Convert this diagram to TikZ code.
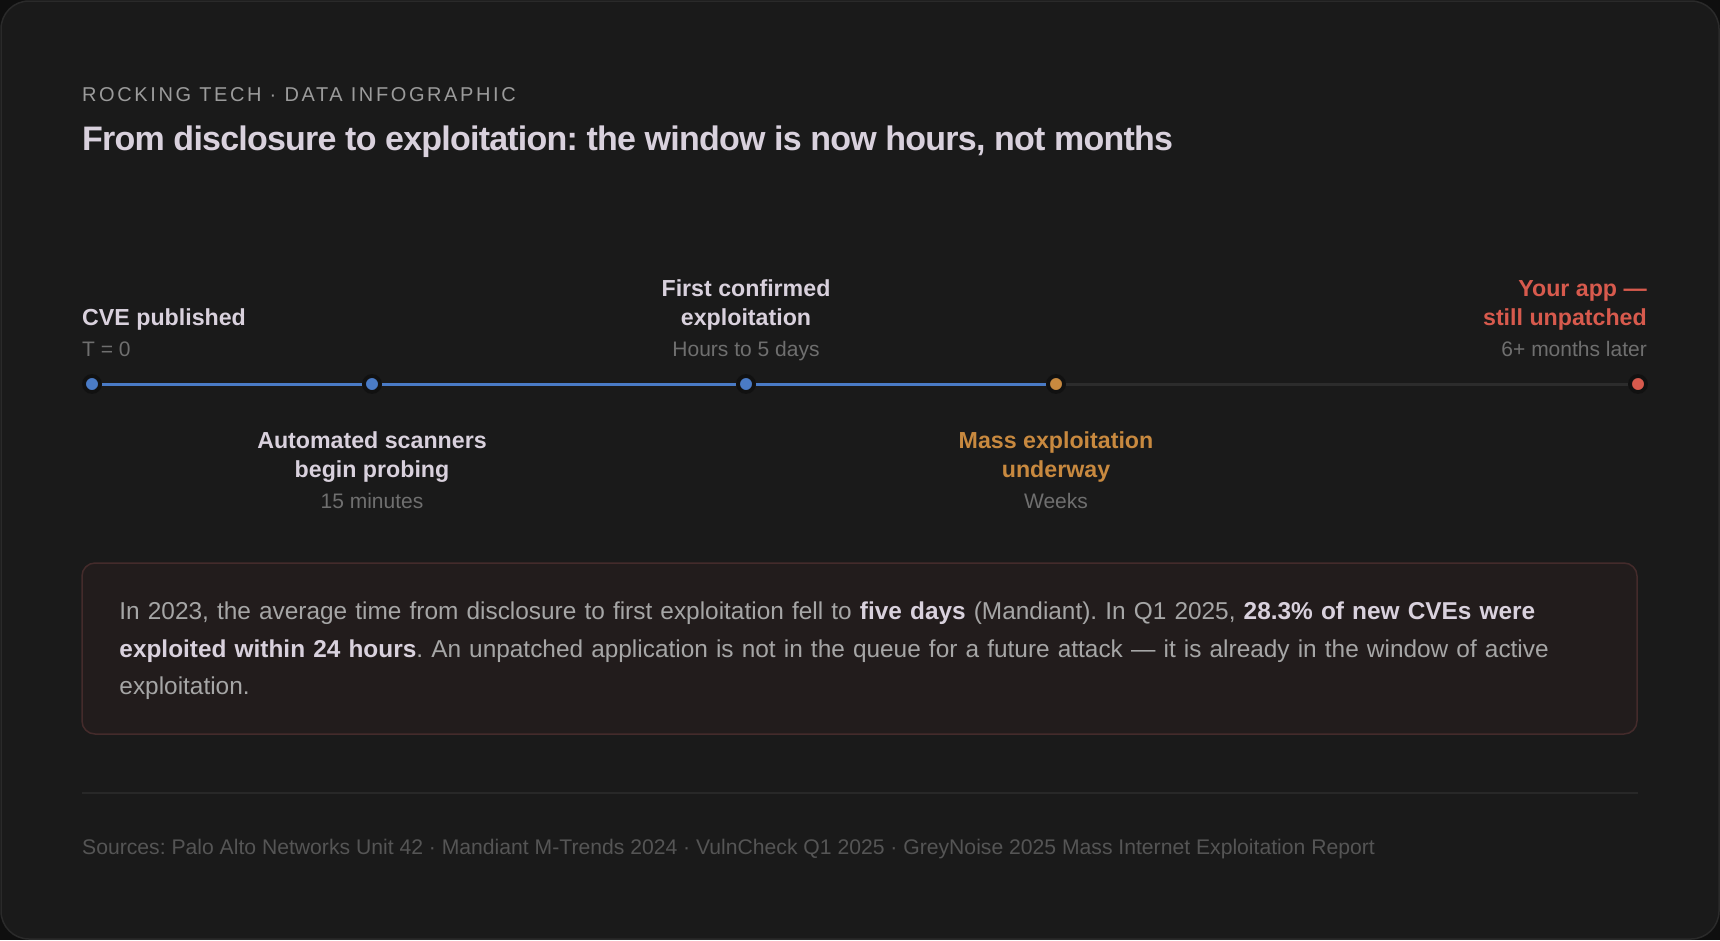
\documentclass[tikz,border=0pt]{standalone}
\usepackage{fontspec}
\setmainfont{Liberation Sans}
\usetikzlibrary{positioning}
\frenchspacing

% colours
\definecolor{pagebg}{HTML}{0F0F0F}
\definecolor{cardbg}{HTML}{1A1A1A}
\definecolor{cardline}{HTML}{2A2A2A}
\definecolor{kickergray}{HTML}{9B9B9B}
\definecolor{titlecol}{HTML}{D9D1DD}
\definecolor{subgray}{HTML}{6F6F6F}
\definecolor{stopblue}{HTML}{4A7BC6}
\definecolor{stoporange}{HTML}{C8893F}
\definecolor{stopred}{HTML}{D75A4D}
\definecolor{trackgray}{HTML}{2C2C2C}
\definecolor{ringcol}{HTML}{111111}
\definecolor{notebg}{HTML}{221C1C}
\definecolor{noteline}{HTML}{442B2B}
\definecolor{notegray}{HTML}{A6A6A6}
\definecolor{rulegray}{HTML}{282828}
\definecolor{srcgray}{HTML}{555555}

% fonts (1pt = 1px of the picture)
\newcommand{\kickerfont}{\fontsize{20}{24}\selectfont\addfontfeature{LetterSpace=13}}
\newcommand{\headfont}{\fontsize{34}{40}\selectfont\bfseries\addfontfeature{LetterSpace=-2.3}}
\newcommand{\evfont}{\fontsize{23.2}{28.3}\selectfont\bfseries}
\newcommand{\subfont}{\fontsize{21}{24}\selectfont}
\newcommand{\notefont}{\fontsize{24.4}{37.8}\selectfont}
\newcommand{\srcfont}{\fontsize{21.15}{24}\selectfont}
\newcommand{\hl}[1]{\textcolor{titlecol}{\bfseries #1}}

\tikzset{
  cardframe/.style={fill=cardbg, draw=cardline, line width=1.5pt, rounded corners=28pt},
  kicker/.style={font=\kickerfont, text=kickergray, inner sep=0pt},
  headline/.style={font=\headfont, text=titlecol, inner sep=0pt},
  dot/.style={circle, draw=ringcol, line width=3.8pt, minimum size=16pt, inner sep=0pt},
  track/.style={line width=3pt},
  evtitle/.style={font=\evfont, text=titlecol, inner sep=0pt, align=center},
  evsub/.style={font=\subfont, text=subgray, inner sep=0pt},
  notebox/.style={fill=notebg, draw=noteline, line width=1.5pt, rounded corners=13pt,
    minimum width=1555pt, minimum height=171pt, inner sep=0pt},
  notetext/.style={font=\notefont, text=notegray, inner sep=0pt, text width=1479pt, align=left},
  sepline/.style={draw=rulegray, line width=1.5pt},
  srcnote/.style={font=\srcfont, text=srcgray, inner sep=0pt}
}

\begin{document}
\begin{tikzpicture}[x=1pt,y=-1pt]
 \useasboundingbox (0,0) rectangle (1720,940);
 % page and card
 \fill[pagebg] (0,0) rectangle (1720,940);
 \draw[cardframe] (1,1) rectangle (1719,939);

 % heading
 \node[kicker, anchor=base west] (kicker) at (82,101.7) {ROCKING TECH · DATA INFOGRAPHIC};
 \node[headline, anchor=base west] (headline) at (82,150)
  {From disclosure to exploitation: the window is now hours, not months};

 % timeline stops
 \node[dot, fill=stopblue]   (cve)   at (92,384)   {};
 \node[dot, fill=stopblue]   (scan)  at (372,384)  {};
 \node[dot, fill=stopblue]   (first) at (746,384)  {};
 \node[dot, fill=stoporange] (mass)  at (1056,384) {};
 \node[dot, fill=stopred]    (app)   at (1638,384) {};

 % track between the stops
 \path (cve)   edge[track, draw=stopblue]  (scan)
       (scan)  edge[track, draw=stopblue]  (first)
       (first) edge[track, draw=stopblue]  (mass)
       (mass)  edge[track, draw=trackgray] (app);

 % labels above the track (base = last line)
 \node[evsub, above=28pt of cve.center, anchor=base west, xshift=-10pt] (cvesub) {T = 0};
 \node[evtitle, above=59pt of cve.center, anchor=base west, xshift=-10pt] (cvelbl) {CVE published};

 \node[evsub, above=28pt of first.center, anchor=base] (firstsub) {Hours to 5 days};
 \node[evtitle, above=59pt of first.center, anchor=base] (firstlbl) {First confirmed\\exploitation};

 \node[evsub, above=28pt of app.center, anchor=base east, xshift=9pt] (appsub) {6+ months later};
 \node[evtitle, text=stopred, align=right,
  above=59pt of app.center, anchor=base east, xshift=9pt] (applbl) {Your app —\\still unpatched};

 % labels below the track
 \node[evtitle, below=93pt of scan.center, anchor=base] (scanlbl) {Automated scanners\\begin probing};
 \node[evsub, below=124pt of scan.center, anchor=base] (scansub) {15 minutes};

 \node[evtitle, text=stoporange, below=93pt of mass.center, anchor=base] (masslbl) {Mass exploitation\\underway};
 \node[evsub, below=124pt of mass.center, anchor=base] (masssub) {Weeks};

 % note box
 \node[notebox] (note) at (859.5,648.5) {};
 \node[notetext, below right=57pt and 38pt of note.north west, anchor=base west] (notetxt)
 {In 2023, the average time from disclosure to first exploitation fell to \hl{five days} (Mandiant). In Q1 2025, \hl{28.3\% of new CVEs were}\\
  \hl{exploited within 24 hours}. An unpatched application is not in the queue for a future attack — it is already in the window of active\\
  exploitation.};

 % footer
 \coordinate (rulel) at (82,793);
 \coordinate (ruler) at (1638,793);
 \draw[sepline] (rulel) -- (ruler);
 \node[srcnote, anchor=base west] (sources) at (82,854)
  {Sources: Palo Alto Networks Unit 42 · Mandiant M-Trends 2024 · VulnCheck Q1 2025 · GreyNoise 2025 Mass Internet Exploitation Report};
\end{tikzpicture}
\end{document}
